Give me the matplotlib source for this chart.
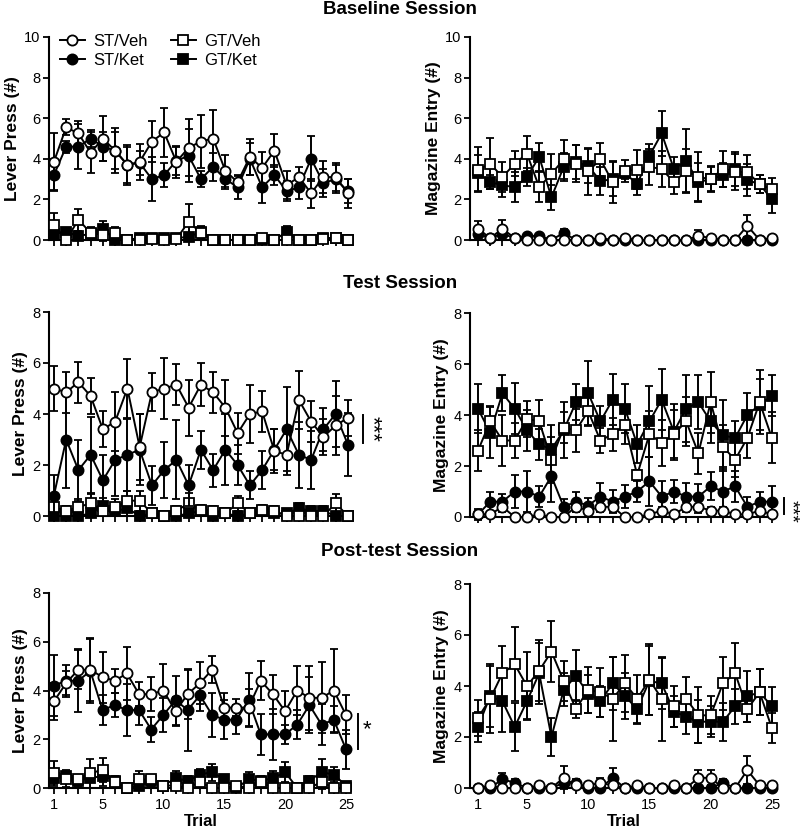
import numpy as np
import matplotlib
matplotlib.use("Agg")
import matplotlib.pyplot as plt
from matplotlib.lines import Line2D

plt.rcParams['font.family'] = ['Liberation Sans', 'DejaVu Sans']

trials = np.arange(1, 26)

# ---------------- Baseline: Lever Press ----------------
bl_lp_stveh = [3.85, 5.55, 5.25, 4.3, 5.0, 4.4, 3.7, 3.85, 4.85, 5.3, 3.85, 4.55, 4.85, 5.0, 3.4, 2.85, 4.1, 3.55, 4.4, 2.7, 3.1, 2.3, 3.1, 3.1, 2.3]
bl_lp_stveh_e = [1.4, 0.4, 0.6, 1.0, 1.1, 1.1, 1.0, 0.9, 1.0, 1.2, 0.8, 1.4, 1.3, 1.4, 0.8, 0.3, 0.9, 0.8, 0.8, 0.7, 0.5, 0.7, 0.8, 0.7, 0.7]
bl_lp_stket = [3.2, 4.6, 4.6, 5.0, 4.6, 4.4, 3.7, 3.8, 3.0, 3.2, 3.9, 4.15, 3.0, 3.6, 3.0, 2.6, 4.0, 2.6, 3.2, 2.4, 2.6, 4.0, 2.8, 3.0, 2.4]
bl_lp_stket_e = [0.8, 0.3, 1.1, 0.4, 0.7, 0.9, 0.9, 0.6, 1.1, 0.6, 0.7, 1.3, 0.4, 0.7, 0.5, 0.6, 0.8, 0.8, 0.5, 0.5, 0.6, 1.1, 0.7, 0.7, 0.6]
bl_lp_gtveh = [0.75, 0.0, 1.0, 0.35, 0.25, 0.35, 0.0, 0.0, 0.05, 0.0, 0.05, 0.9, 0.35, 0.0, 0.0, 0.0, 0.0, 0.1, 0.0, 0.0, 0.0, 0.0, 0.05, 0.1, 0.0]
bl_lp_gtveh_e = [0.6, 0, 0.55, 0.3, 0.3, 0.3, 0, 0, 0.1, 0, 0.1, 0.85, 0.3, 0, 0, 0, 0, 0.1, 0, 0, 0, 0, 0.1, 0.1, 0]
bl_lp_gtket = [0.3, 0.4, 0.2, 0.3, 0.55, 0.0, 0.0, 0.1, 0.1, 0.1, 0.1, 0.15, 0.4, 0.0, 0.0, 0.0, 0.0, 0.0, 0.0, 0.4, 0.0, 0.0, 0.1, 0.1, 0.0]
bl_lp_gtket_e = [0.2, 0.2, 0.2, 0.3, 0.4, 0, 0, 0.1, 0.1, 0.1, 0.1, 0.1, 0.3, 0, 0, 0, 0, 0, 0, 0.3, 0, 0, 0.1, 0.1, 0]

# ---------------- Baseline: Magazine Entry ----------------
bl_me_stveh = [0.55, 0.1, 0.55, 0.1, 0.0, 0.0, 0.0, 0.0, 0.0, 0.0, 0.1, 0.0, 0.1, 0.0, 0.0, 0.0, 0.0, 0.0, 0.2, 0.1, 0.0, 0.0, 0.7, 0.0, 0.1]
bl_me_stveh_e = [0.4, 0.1, 0.45, 0.1, 0, 0, 0, 0, 0, 0, 0.1, 0, 0.1, 0, 0, 0, 0, 0, 0.3, 0.1, 0, 0, 0.55, 0, 0.1]
bl_me_stket = [0.3, 0.1, 0.3, 0.1, 0.2, 0.2, 0.0, 0.35, 0.0, 0.0, 0.0, 0.0, 0.0, 0.0, 0.0, 0.0, 0.0, 0.0, 0.0, 0.0, 0.0, 0.0, 0.0, 0.0, 0.0]
bl_me_stket_e = [0.2, 0.1, 0.2, 0.1, 0.1, 0.1, 0, 0.2, 0, 0, 0, 0, 0, 0, 0, 0, 0, 0, 0, 0, 0, 0, 0, 0, 0]
bl_me_gtveh = [3.46, 3.76, 3.1, 3.76, 4.25, 2.6, 3.26, 3.97, 3.76, 3.39, 3.97, 2.85, 3.4, 3.46, 3.6, 3.5, 2.85, 3.4, 3.1, 3.0, 3.5, 3.35, 3.35, 2.75, 2.5]
bl_me_gtveh_e = [1.1, 1.25, 0.75, 0.6, 0.85, 0.75, 1.0, 0.95, 0.9, 1.15, 0.8, 1.05, 0.55, 0.95, 0.9, 0.9, 0.6, 1.1, 1.25, 0.6, 0.9, 0.9, 0.85, 0.45, 0.55]
bl_me_gtket = [3.3, 2.85, 2.7, 2.6, 3.1, 4.1, 2.1, 3.6, 3.85, 3.65, 2.9, 3.0, 3.3, 2.75, 4.15, 5.25, 3.5, 3.9, 2.85, 3.0, 3.2, 3.5, 2.95, 2.75, 2.0]
bl_me_gtket_e = [0.9, 0.35, 0.6, 0.75, 0.45, 0.7, 0.6, 0.7, 0.85, 0.85, 0.7, 0.85, 0.3, 0.55, 0.6, 1.1, 0.6, 1.55, 0.95, 0.65, 0.6, 0.85, 0.8, 0.45, 0.65]

# ---------------- Test: Lever Press ----------------
ts_lp_stveh = [5.0, 4.85, 5.25, 4.7, 3.4, 3.7, 5.0, 2.7, 4.85, 5.0, 5.15, 4.25, 5.15, 4.85, 4.25, 3.25, 4.0, 4.1, 2.55, 2.4, 4.55, 3.7, 3.1, 3.55, 3.85]
ts_lp_stveh_e = [0.9, 0.8, 0.8, 0.7, 0.7, 1.15, 1.15, 1.3, 0.75, 1.2, 0.8, 1.1, 0.85, 0.8, 1.1, 0.8, 1.15, 0.8, 0.85, 0.8, 1.15, 0.8, 0.7, 1.15, 0.7]
ts_lp_stket = [0.8, 3.0, 1.8, 2.4, 1.4, 2.2, 2.4, 2.6, 1.2, 1.8, 2.2, 1.2, 2.6, 1.8, 2.6, 2.0, 1.2, 1.8, 2.6, 3.4, 2.4, 2.2, 3.4, 4.0, 2.8]
ts_lp_stket_e = [0.8, 1.9, 1.2, 1.5, 1.0, 1.4, 1.4, 1.4, 0.75, 1.1, 1.55, 0.8, 0.75, 0.65, 1.4, 0.8, 0.55, 0.75, 0.8, 1.65, 1.3, 1.15, 0.85, 1.3, 1.25]
ts_lp_gtveh = [0.35, 0.2, 0.35, 0.5, 0.2, 0.35, 0.6, 0.6, 0.1, 0.0, 0.2, 0.5, 0.25, 0.2, 0.1, 0.5, 0.1, 0.25, 0.2, 0.0, 0.0, 0.0, 0.0, 0.5, 0.0]
ts_lp_gtveh_e = [0.3, 0.2, 0.3, 0.35, 0.2, 0.3, 0.4, 0.4, 0.1, 0, 0.2, 0.4, 0.2, 0.2, 0.1, 0.3, 0.1, 0.2, 0.2, 0, 0, 0, 0, 0.35, 0]
ts_lp_gtket = [0.0, 0.0, 0.0, 0.1, 0.4, 0.2, 0.3, 0.0, 0.1, 0.0, 0.0, 0.1, 0.2, 0.0, 0.1, 0.0, 0.1, 0.2, 0.1, 0.1, 0.3, 0.2, 0.2, 0.0, 0.0]
ts_lp_gtket_e = [0, 0, 0, 0.1, 0.3, 0.2, 0.3, 0, 0.1, 0, 0, 0.1, 0.2, 0, 0.1, 0, 0.1, 0.2, 0.1, 0.1, 0.2, 0.2, 0.2, 0, 0]

# ---------------- Test: Magazine Entry ----------------
ts_me_stveh = [0.1, 0.1, 0.4, 0.0, 0.0, 0.1, 0.0, 0.0, 0.4, 0.25, 0.4, 0.4, 0.0, 0.0, 0.1, 0.25, 0.1, 0.4, 0.4, 0.25, 0.25, 0.1, 0.1, 0.25, 0.1]
ts_me_stveh_e = [0.1, 0.1, 0.2, 0, 0, 0.1, 0, 0, 0.2, 0.1, 0.2, 0.2, 0, 0, 0.1, 0.15, 0.1, 0.2, 0.25, 0.15, 0.15, 0.1, 0.1, 0.15, 0.1]
ts_me_stket = [0.1, 0.6, 0.6, 1.0, 1.0, 0.8, 1.6, 0.4, 0.6, 0.45, 0.8, 0.6, 0.8, 1.0, 1.4, 0.8, 1.0, 0.8, 0.8, 1.2, 1.0, 1.2, 0.4, 0.6, 0.6]
ts_me_stket_e = [0.2, 0.4, 0.3, 0.65, 0.8, 0.4, 1.0, 0.3, 0.4, 0.3, 0.55, 0.45, 0.45, 0.4, 0.95, 0.6, 0.45, 0.55, 0.5, 0.55, 0.95, 0.6, 0.4, 0.4, 0.6]
ts_me_gtveh = [2.6, 3.75, 3.0, 3.0, 3.85, 3.75, 2.25, 3.5, 3.4, 4.15, 3.0, 3.25, 3.6, 1.65, 3.25, 2.9, 3.25, 3.75, 2.5, 4.5, 2.75, 2.25, 3.1, 4.5, 3.1]
ts_me_gtveh_e = [0.8, 0.6, 1.0, 0.7, 0.7, 0.85, 0.9, 0.6, 0.85, 0.6, 0.5, 0.65, 0.75, 0.2, 0.9, 0.9, 0.95, 0.95, 0.8, 1.2, 0.85, 0.7, 0.8, 1.25, 1.0]
ts_me_gtket = [4.25, 3.3, 4.85, 4.25, 3.4, 2.85, 2.65, 3.4, 4.5, 4.85, 3.75, 4.6, 4.25, 2.85, 3.75, 4.6, 3.35, 4.25, 4.5, 3.75, 3.2, 3.1, 4.0, 4.4, 4.75]
ts_me_gtket_e = [0.95, 1.0, 0.7, 1.0, 0.8, 0.6, 0.95, 1.1, 0.7, 1.25, 0.6, 1.0, 0.95, 0.75, 1.4, 1.2, 1.1, 1.3, 1.05, 0.85, 1.4, 0.65, 0.85, 1.0, 0.8]

# ---------------- Post-test: Lever Press ----------------
pt_lp_stveh = [3.55, 4.3, 4.85, 4.85, 4.55, 4.4, 4.7, 3.85, 3.85, 4.0, 3.15, 3.85, 4.3, 4.85, 3.3, 3.3, 3.3, 4.4, 3.85, 3.15, 4.0, 3.7, 3.7, 4.0, 3.0]
pt_lp_stveh_e = [0.75, 0.5, 0.8, 1.3, 1.05, 0.5, 1.1, 0.5, 0.7, 1.1, 0.6, 1.0, 0.85, 0.55, 0.6, 0.35, 0.75, 0.8, 0.8, 0.85, 1.0, 1.3, 1.45, 1.7, 0.8]
pt_lp_stket = [4.2, 4.4, 4.4, 4.8, 3.2, 3.4, 3.2, 3.2, 2.4, 3.0, 3.6, 3.2, 3.8, 3.0, 2.8, 2.8, 3.6, 2.2, 2.2, 2.2, 2.6, 3.4, 2.6, 2.8, 1.6]
pt_lp_stket_e = [1.25, 0.65, 1.3, 1.3, 0.6, 0.5, 1.05, 0.6, 0.5, 0.7, 1.0, 1.7, 0.65, 0.9, 0.8, 0.6, 1.1, 0.85, 1.05, 0.4, 0.6, 1.15, 0.85, 0.55, 0.8]
pt_lp_gtveh = [0.6, 0.35, 0.35, 0.6, 0.75, 0.25, 0.0, 0.35, 0.35, 0.1, 0.1, 0.0, 0.25, 0.0, 0.0, 0.1, 0.0, 0.25, 0.0, 0.0, 0.0, 0.0, 0.25, 0.0, 0.0]
pt_lp_gtveh_e = [0.5, 0.3, 0.2, 0.6, 0.5, 0.2, 0, 0.35, 0.2, 0.1, 0.1, 0, 0.2, 0, 0, 0.1, 0, 0.2, 0, 0, 0, 0, 0.3, 0, 0]
pt_lp_gtket = [0.4, 0.5, 0.3, 0.4, 0.5, 0.3, 0.0, 0.1, 0.3, 0.1, 0.4, 0.3, 0.55, 0.65, 0.35, 0.0, 0.35, 0.3, 0.4, 0.65, 0.0, 0.3, 0.65, 0.55, 0.1]
pt_lp_gtket_e = [0.25, 0.25, 0.2, 0.4, 0.4, 0.2, 0, 0.1, 0.2, 0.1, 0.3, 0.2, 0.25, 0.35, 0.2, 0, 0.3, 0.2, 0.3, 0.4, 0, 0.2, 0.55, 0.3, 0.1]

# ---------------- Post-test: Magazine Entry ----------------
pt_me_stveh = [0.0, 0.1, 0.0, 0.0, 0.0, 0.1, 0.0, 0.4, 0.1, 0.1, 0.2, 0.1, 0.0, 0.1, 0.0, 0.0, 0.1, 0.0, 0.4, 0.4, 0.0, 0.0, 0.7, 0.1, 0.1]
pt_me_stveh_e = [0, 0.1, 0, 0, 0, 0.1, 0, 0.45, 0.1, 0.1, 0.2, 0.1, 0, 0.1, 0, 0, 0.1, 0, 0.3, 0.3, 0, 0, 0.55, 0.1, 0.1]
pt_me_stket = [0.0, 0.0, 0.35, 0.2, 0.0, 0.0, 0.0, 0.2, 0.2, 0.0, 0.0, 0.4, 0.0, 0.0, 0.0, 0.0, 0.0, 0.0, 0.0, 0.0, 0.2, 0.0, 0.0, 0.0, 0.0]
pt_me_stket_e = [0, 0, 0.25, 0.15, 0, 0, 0, 0.15, 0.15, 0, 0, 0.4, 0, 0, 0, 0, 0, 0, 0, 0, 0.15, 0, 0, 0, 0]
pt_me_gtveh = [2.75, 3.5, 4.5, 4.85, 4.0, 4.6, 5.35, 4.2, 3.1, 3.85, 3.75, 3.5, 4.1, 3.5, 4.25, 3.5, 3.2, 3.5, 2.85, 2.85, 4.1, 4.5, 3.1, 3.75, 2.35]
pt_me_gtveh_e = [0.7, 1.35, 1.05, 1.45, 1.35, 1.2, 1.2, 0.8, 0.35, 0.9, 0.95, 1.65, 1.1, 0.95, 1.4, 1.65, 0.8, 0.85, 1.1, 0.75, 1.05, 1.2, 0.5, 0.9, 0.6]
pt_me_gtket = [2.4, 3.6, 3.4, 2.4, 3.4, 4.5, 2.0, 3.85, 4.4, 3.7, 3.4, 4.1, 3.6, 3.1, 4.2, 4.1, 3.0, 2.8, 2.6, 2.6, 2.6, 3.2, 3.6, 3.75, 3.2]
pt_me_gtket_e = [0.6, 1.2, 1.2, 0.95, 0.7, 1.2, 0.75, 0.65, 1.0, 0.75, 0.6, 1.05, 0.9, 0.6, 1.35, 1.0, 0.6, 0.7, 0.85, 0.6, 0.75, 0.7, 1.0, 0.9, 0.75]

titles = ["Baseline Session", "Test Session", "Post-test Session"]
ylabels = ["Lever Press (#)", "Magazine Entry (#)"]
xticks = [1, 5, 10, 15, 20, 25]

W, H = 800, 831
fig = plt.figure(figsize=(W / 100, H / 100), dpi=100)


def ax_at(left_px, right_px, top_px, bottom_px):
    return fig.add_axes([left_px / W, 1 - bottom_px / H, (right_px - left_px) / W, (bottom_px - top_px) / H])


styles = {
    'stveh': dict(marker='o', mfc='white', mec='black'),
    'stket': dict(marker='o', mfc='black', mec='black'),
    'gtveh': dict(marker='s', mfc='white', mec='black'),
    'gtket': dict(marker='s', mfc='black', mec='black'),
}
MS = 7.3
LW = 1.4


def draw_panel(ax, series, ymax, ylabel, bottom_row, xlim):
    order = ['gtket', 'gtveh', 'stket', 'stveh']
    for z, key in enumerate(order):
        vals, errs = series[key]
        st = styles[key]
        ax.errorbar(trials, vals, yerr=errs, color='black', lw=LW, elinewidth=LW,
                    capsize=3.0, capthick=LW, marker=st['marker'], ms=MS,
                    mfc=st['mfc'], mec=st['mec'], mew=1.3, clip_on=False, zorder=3 + z)
    ax.set_xlim(*xlim)
    ax.set_ylim(0, ymax)
    ax.set_yticks(np.arange(0, ymax + 0.1, 2))
    ax.spines['top'].set_visible(False)
    ax.spines['right'].set_visible(False)
    ax.spines['left'].set_linewidth(1.5)
    ax.spines['bottom'].set_linewidth(1.5)
    ax.spines['bottom'].set_bounds(xlim[0], 25.3)
    ax.tick_params(axis='y', direction='out', length=4, width=1.3, labelsize=10.5, colors='black', pad=2)
    ax.set_xticks(xticks)
    ax.set_xticks(trials, minor=True)
    ax.tick_params(axis='x', which='both', direction='out', length=4.5, width=1.3, labelsize=10.5, pad=3)
    if not bottom_row:
        ax.tick_params(axis='x', which='major', labelbottom=False)
    else:
        ax.set_xlabel("Trial", fontsize=12, fontweight='bold', labelpad=1)
    ax.set_ylabel(ylabel, fontsize=12.5, fontweight='bold', labelpad=3)
    ax.set_facecolor('none')


xl_left = (0.6, 25.5)
xl_right = (0.35, 25.5)

ax1 = ax_at(49, 354, 37, 240)
draw_panel(ax1, {'stveh': (bl_lp_stveh, bl_lp_stveh_e), 'stket': (bl_lp_stket, bl_lp_stket_e),
                 'gtveh': (bl_lp_gtveh, bl_lp_gtveh_e), 'gtket': (bl_lp_gtket, bl_lp_gtket_e)},
           10, ylabels[0], False, xl_left)
ax2 = ax_at(470, 778, 37, 240)
draw_panel(ax2, {'stveh': (bl_me_stveh, bl_me_stveh_e), 'stket': (bl_me_stket, bl_me_stket_e),
                 'gtveh': (bl_me_gtveh, bl_me_gtveh_e), 'gtket': (bl_me_gtket, bl_me_gtket_e)},
           10, ylabels[1], False, xl_right)
ax3 = ax_at(49, 354, 312, 516)
draw_panel(ax3, {'stveh': (ts_lp_stveh, ts_lp_stveh_e), 'stket': (ts_lp_stket, ts_lp_stket_e),
                 'gtveh': (ts_lp_gtveh, ts_lp_gtveh_e), 'gtket': (ts_lp_gtket, ts_lp_gtket_e)},
           8, ylabels[0], False, xl_left)
ax4 = ax_at(470, 778, 313, 517)
draw_panel(ax4, {'stveh': (ts_me_stveh, ts_me_stveh_e), 'stket': (ts_me_stket, ts_me_stket_e),
                 'gtveh': (ts_me_gtveh, ts_me_gtveh_e), 'gtket': (ts_me_gtket, ts_me_gtket_e)},
           8, ylabels[1], False, xl_right)
ax5 = ax_at(49, 352, 593, 788)
draw_panel(ax5, {'stveh': (pt_lp_stveh, pt_lp_stveh_e), 'stket': (pt_lp_stket, pt_lp_stket_e),
                 'gtveh': (pt_lp_gtveh, pt_lp_gtveh_e), 'gtket': (pt_lp_gtket, pt_lp_gtket_e)},
           8, ylabels[0], True, xl_left)
ax6 = ax_at(470, 778, 584, 788)
draw_panel(ax6, {'stveh': (pt_me_stveh, pt_me_stveh_e), 'stket': (pt_me_stket, pt_me_stket_e),
                 'gtveh': (pt_me_gtveh, pt_me_gtveh_e), 'gtket': (pt_me_gtket, pt_me_gtket_e)},
           8, ylabels[1], True, xl_right)

# Session titles
fig.text(0.5, 1 - 10 / H, titles[0], ha='center', va='center', fontsize=13.5, fontweight='bold')
fig.text(0.5, 1 - 283 / H, titles[1], ha='center', va='center', fontsize=13.5, fontweight='bold')
fig.text(0.5, 1 - 551 / H, titles[2], ha='center', va='center', fontsize=13.5, fontweight='bold')

# Legend
labels = ["ST/Veh", "ST/Ket", "GT/Veh", "GT/Ket"]
keys = ['stveh', 'stket', 'gtveh', 'gtket']
handles = [Line2D([0], [0], color='black', lw=LW, marker=styles[k]['marker'], ms=MS,
                  mfc=styles[k]['mfc'], mec='black', mew=1.3) for k in keys]
ax1.legend(handles, labels, ncol=2, loc='upper left', bbox_to_anchor=(0.035, 1.015), frameon=False,
           fontsize=12, handlelength=1.5, handletextpad=0.5, columnspacing=1.4, labelspacing=0.25,
           borderaxespad=0.0, borderpad=0.0)

# Significance markers
ax3.plot([26.2, 26.2], [2.85, 3.95], color='black', lw=1.4, clip_on=False)
ax3.text(27.0, 3.4, "***", rotation=270, ha='center', va='center', fontsize=16)
ax4.plot([25.95, 25.95], [0.1, 0.75], color='black', lw=1.4, clip_on=False)
ax4.text(26.5, 0.2, "***", rotation=270, ha='center', va='center', fontsize=14)
ax5.plot([26.0, 26.0], [1.6, 3.05], color='black', lw=1.4, clip_on=False)
ax5.text(26.7, 2.4, "*", ha='center', va='center', fontsize=16)

fig.savefig("out.png", dpi=100)
